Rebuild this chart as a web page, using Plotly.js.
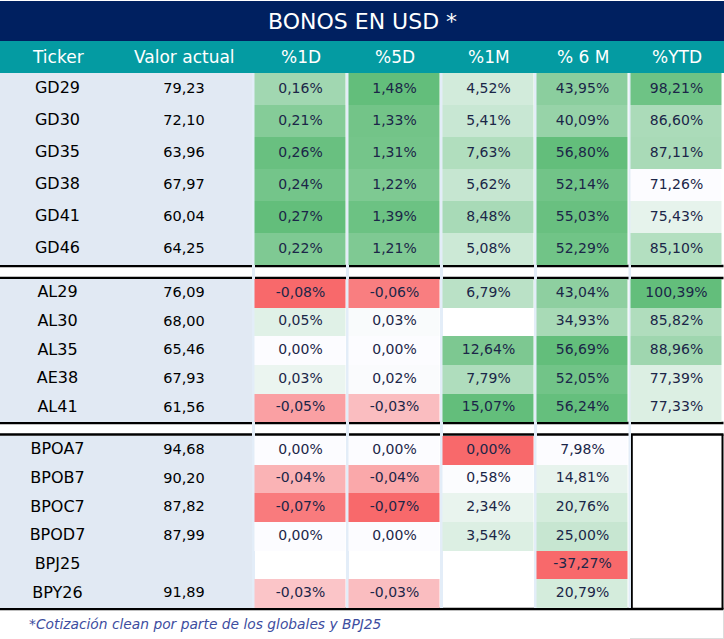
<!DOCTYPE html>
<html>
<head>
<meta charset="utf-8">
<script src="https://cdn.plot.ly/plotly-3.0.1.min.js"></script>
<style>html,body{margin:0;padding:0;background:#fff;}#chart{width:724px;height:639px;}</style>
</head>
<body>
<div id="chart"></div>
<script>
// ---------------- DATA ----------------
const title = "BONOS EN USD *";
const headers = ["Ticker", "Valor actual", "%1D", "%5D", "%1M", "% 6 M", "%YTD"];
const groupSizes = [6, 5, 6];
const tickers = ["GD29","GD30","GD35","GD38","GD41","GD46",
                 "AL29","AL30","AL35","AE38","AL41",
                 "BPOA7","BPOB7","BPOC7","BPOD7","BPJ25","BPY26"];
const valorActual = [79.23,72.10,63.96,67.97,60.04,64.25,
                     76.09,68.00,65.46,67.93,61.56,
                     94.68,90.20,87.82,87.99,null,91.89];
const pct1D = [0.16,0.21,0.26,0.24,0.27,0.22,
               -0.08,0.05,0.00,0.03,-0.05,
               0.00,-0.04,-0.07,0.00,null,-0.03];
const pct5D = [1.48,1.33,1.31,1.22,1.39,1.21,
               -0.06,0.03,0.00,0.02,-0.03,
               0.00,-0.04,-0.07,0.00,null,-0.03];
const pct1M = [4.52,5.41,7.63,5.62,8.48,5.08,
               6.79,null,12.64,7.79,15.07,
               0.00,0.58,2.34,3.54,null,null];
const pct6M = [43.95,40.09,56.80,52.14,55.03,52.29,
               43.04,34.93,56.69,52.05,56.24,
               7.98,14.81,20.76,25.00,-37.27,20.79];
const pctYTD = [98.21,86.60,87.11,71.26,75.43,85.10,
                100.39,85.82,88.96,77.39,77.33,
                null,null,null,null,null,null];
const footnote = "*Cotización clean por parte de los globales y BPJ25";

// ---------------- STYLE / LAYOUT CONSTANTS ----------------
const W = 724, H = 639;
const valueCols = [pct1D, pct5D, pct1M, pct6M, pctYTD];
const scaleMid = [0, 0, 0.5, 7.98, 71.26];        // colour-scale midpoints (white)
const valueEdges = [253.5, 347.5, 441.5, 535.5, 629.5, 723.5];
const leftEdges = [0, 252];
const leftCenters = [57.5, 184];
const groupTop = [73, 279, 436];
const rowH = [32, 28.65, 28.65];
const NAVY = "#002060", TEAL = "#049BA2", LEFTBG = "#E1E9F3", SEP = "#E3EDF8";
const FONT = "DejaVu Sans";

// build row edges (with empty gap rows between groups)
const yEdges = [groupTop[0]];
const rowIndex = [];
const rowCenters = [];
let idx = 0;
groupSizes.forEach((n, g) => {
  if (g > 0) { yEdges.push(groupTop[g]); rowIndex.push(-1); }
  for (let i = 0; i < n; i++) {
    const top = yEdges[yEdges.length - 1];
    yEdges.push(top + rowH[g]);
    rowIndex.push(idx);
    rowCenters[idx] = top + rowH[g] / 2;
    idx++;
  }
});

function norm(v, c) {
  if (v === null) return null;
  const vals = valueCols[c].filter(x => x !== null);
  const lo = Math.min(...vals), hi = Math.max(...vals), mid = scaleMid[c];
  if (v < mid) return -(mid - v) / (mid - lo);
  return hi > mid ? (v - mid) / (hi - mid) : 0;
}
const fmt = (v, pct) => v === null ? "" : v.toFixed(2).replace(".", ",") + (pct ? "%" : "");

const zVals = rowIndex.map(i => valueCols.map((col, c) => i < 0 ? null : norm(col[i], c)));
const zLeft = rowIndex.map(i => [i < 0 ? null : 0]);

const traces = [];
traces.push({
  type: "heatmap", x: leftEdges, y: yEdges, z: zLeft,
  colorscale: [[0, LEFTBG], [1, LEFTBG]], zmin: 0, zmax: 1,
  showscale: false, hoverinfo: "skip"
});
traces.push({
  type: "heatmap", x: valueEdges, y: yEdges, z: zVals,
  colorscale: [[0, "#F8696B"], [0.5, "#FCFCFF"], [1, "#63BE7B"]], zmin: -1, zmax: 1,
  xgap: 3, showscale: false, hoverinfo: "skip"
});
// text traces
traces.push({
  type: "scatter", mode: "text", x: tickers.map(() => leftCenters[0]), y: rowCenters,
  text: tickers, textfont: {family: FONT, size: 16, color: "#000"}, hoverinfo: "skip"
});
traces.push({
  type: "scatter", mode: "text", x: valorActual.map(() => leftCenters[1]), y: rowCenters,
  text: valorActual.map(v => fmt(v, false)), textfont: {family: FONT, size: 14.5, color: "#000"}, hoverinfo: "skip"
});
valueCols.forEach((col, c) => {
  const cx = (valueEdges[c] + valueEdges[c + 1]) / 2;
  traces.push({
    type: "scatter", mode: "text", x: col.map(() => cx), y: rowCenters,
    text: col.map(v => fmt(v, true)), textfont: {family: FONT, size: 14, color: "#1B2648"}, hoverinfo: "skip"
  });
});

// decorations
const shapes = [];
shapes.push({type: "rect", xref: "x", yref: "y", x0: 0, x1: W, y0: 1, y1: 41, fillcolor: NAVY, line: {width: 0}, layer: "below"});
shapes.push({type: "rect", xref: "x", yref: "y", x0: 0, x1: W, y0: 41, y1: 73, fillcolor: TEAL, line: {width: 0}, layer: "below"});
[266, 278, 423, 434.5, 609].forEach(y => {
  shapes.push({type: "line", xref: "x", yref: "y", x0: 0, x1: 723.5, y0: y, y1: y, line: {color: "#000", width: 2.5}, layer: "below"});
});
[631.8, 722.5].forEach(x => {
  shapes.push({type: "line", xref: "x", yref: "y", x0: x, x1: x, y0: 434.5, y1: 609, line: {color: "#000", width: 2}, layer: "below"});
});
[[252, 255], [346, 349], [440, 443], [534, 537], [628.5, 631]].forEach(([a, b]) => {
  shapes.push({type: "rect", xref: "x", yref: "y", x0: a, x1: b, y0: 73, y1: 608, fillcolor: SEP, line: {width: 0}, layer: "below"});
});
shapes.push({type: "line", xref: "x", yref: "y", x0: 630, x1: 724, y0: 638.5, y1: 638.5, line: {color: "#DDDDDD", width: 1}});
shapes.push({type: "line", xref: "x", yref: "y", x0: 723.5, x1: 723.5, y0: 610, y1: 639, line: {color: "#DDDDDD", width: 1}});

const annotations = [];
annotations.push({xref: "x", yref: "y", x: 362.5, y: 21, text: title, showarrow: false,
  font: {family: FONT, size: 22, color: "#FFFFFF"}, xanchor: "center", yanchor: "middle"});
const headerX = leftCenters.concat(valueEdges.slice(0, 5).map((e, c) => (e + valueEdges[c + 1]) / 2));
headers.forEach((h, i) => {
  annotations.push({xref: "x", yref: "y", x: headerX[i], y: 57, text: h, showarrow: false,
    font: {family: FONT, size: 17, color: "#FFFFFF"}, xanchor: "center", yanchor: "middle"});
});
annotations.push({xref: "x", yref: "y", x: 27, y: 624, text: footnote, showarrow: false,
  font: {family: FONT, size: 13.8, color: "#3D4DA0", style: "italic"}, xanchor: "left", yanchor: "middle"});

const layout = {
  width: W, height: H, margin: {l: 0, r: 0, t: 0, b: 0},
  paper_bgcolor: "#FFFFFF", plot_bgcolor: "#FFFFFF",
  xaxis: {range: [0, W], visible: false, fixedrange: true},
  yaxis: {range: [H, 0], visible: false, fixedrange: true},
  showlegend: false, shapes: shapes, annotations: annotations
};
Plotly.newPlot("chart", traces, layout, {displayModeBar: false, staticPlot: true});
</script>
</body>
</html>
